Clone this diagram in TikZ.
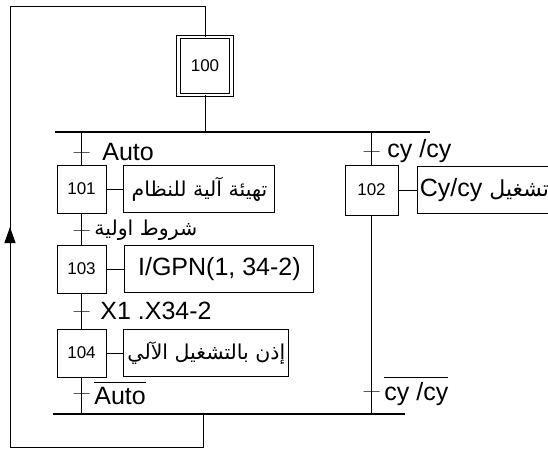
\documentclass[tikz,border=0pt]{standalone}
\usepackage{fontspec}
\setmainfont{Liberation Sans}
\newfontfamily\arabicfont[Script=Arabic]{DejaVu Sans}
\TeXXeTstate=1
\usetikzlibrary{positioning,arrows.meta}

\begin{document}
\begin{tikzpicture}[
  x=1pt, y=-1pt, line width=0.9pt,
  etape/.style={draw, minimum width=49pt, minimum height=48pt, inner sep=0pt, font=\fontsize{17}{19}\selectfont},
  action/.style={draw, minimum height=47pt, inner sep=2pt, font=\fontsize{25}{28}\selectfont},
  arabe/.style={font=\fontsize{20.5}{24}\selectfont\arabicfont},
  trans/.style={draw, minimum width=16pt, minimum height=0pt, inner sep=0pt},
  recep/.style={font=\fontsize{25}{28}\selectfont, inner sep=1pt},
  barre/.style={line width=1.6pt}
]
  \useasboundingbox (0,0) rectangle (548,450);

  % etapes
  \node[etape, double, double distance=2.5pt, minimum width=53pt, minimum height=58pt] (e100) at (205,66) {100};
  \node[etape] (e101) at (81.5,189) {101};
  \node[etape] (e103) at (81.5,269) {103};
  \node[etape] (e104) at (81.5,353) {104};
  \node[etape, minimum width=53pt, minimum height=50pt] (e102) at (371.5,190) {102};

  % actions
  \node[action, arabe, minimum width=151pt, right=17pt of e101] (a101) {\beginR تهيئة آلية للنظام\endR};
  \node[action, minimum width=189pt, right=18pt of e103] (a103) {I/GPN(1, 34-2)};
  \node[action, arabe, minimum width=165pt, right=17pt of e104] (a104) {\beginR إذن بالتشغيل الآلي\endR};
  \node[action, minimum width=130pt, right=19pt of e102] (a102) {Cy/cy {\arabicfont\fontsize{22}{24}\selectfont\beginR تشغيل\endR}};

  % divergence, convergence, retour
  \coordinate (divG) at (55,132);
  \coordinate (divD) at (430,132);
  \coordinate (convG) at (53,414);
  \coordinate (convD) at (405,414);
  \coordinate (coinBD) at (203,447);
  \coordinate (coinBG) at (10,447);
  \coordinate (coinHG) at (10,6);
  \coordinate (coinHD) at (205,6);
  \coordinate (fleche) at (10,227);

  % transitions
  \node[trans] (t1) at (81.5,152) {};
  \node[trans] (t2) at (81.5,230) {};
  \node[trans] (t3) at (81.5,311) {};
  \node[trans] (t4) at (81.5,393) {};
  \node[trans] (t5) at (371.5,151) {};
  \node[trans] (t6) at (371.5,391) {};

  \node[recep, right=11pt of t1] (r1) {Auto};
  \node[recep, arabe, right=3pt of t2] (r2) {\beginR شروط اولية\endR};
  \node[recep, right=9pt of t3] (r3) {X1 .X34-2};
  \node[recep, right=3pt of t4] (r4) {$\overline{\hbox{\rule{0pt}{21.5pt}Auto}}$};
  \node[recep, right=6pt of t5] (r5) {cy /cy};
  \node[recep, right=3pt of t6] (r6) {$\overline{\hbox{\rule{0pt}{21.5pt}cy /cy}}$};

  \draw[barre] (divG) -- (divD);
  \draw[barre] (convG) -- (convD);
  \draw (e100.south) -- (e100.south |- divG);
  \draw (e101.north |- divG) -- (e101.north);
  \draw (e101.south) -- (e103.north);
  \draw (e103.south) -- (e104.north);
  \draw (e104.south) -- (e104.south |- convG);
  \draw (e102.north |- divG) -- (e102.north);
  \draw (e102.south) -- (e102.south |- convG);
  \foreach \n in {101,102,103,104}
    \draw (e\n.east) -- (a\n.west);

  \draw (coinBD |- convG) -- (coinBD) -- (coinBG) -- (coinHG) -- (coinHD) -- (e100.north);
  \draw[-{Triangle[length=16pt, width=11pt]}] (coinBG) -- (fleche);
\end{tikzpicture}
\end{document}
